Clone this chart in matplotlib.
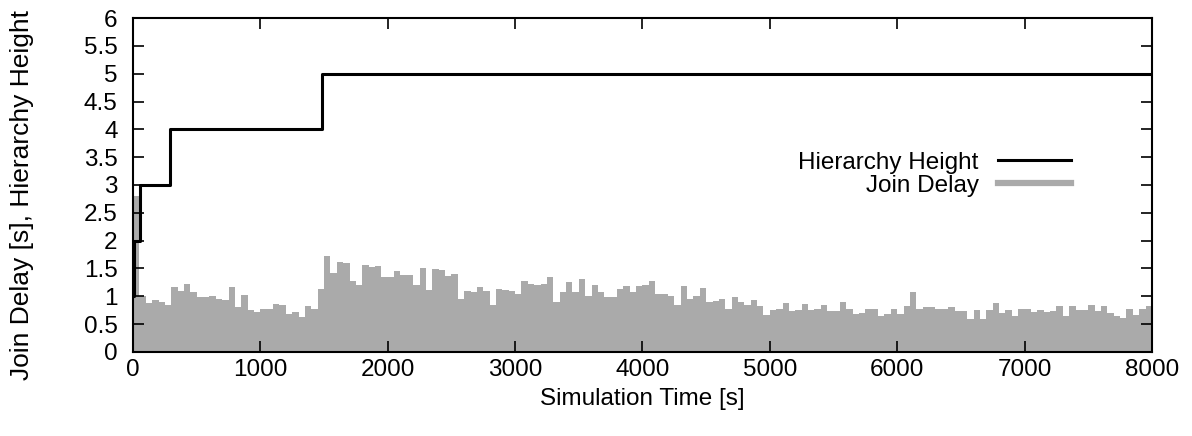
import numpy as np
import matplotlib
matplotlib.use('Agg')
import matplotlib.pyplot as plt
from matplotlib.ticker import MultipleLocator, FormatStrFormatter
from matplotlib.lines import Line2D

plt.rcParams['font.family'] = ['Liberation Sans', 'DejaVu Sans']

# join delay, one value per 50 s bin (0 .. 8000 s)
bin_width = 50
join_delay = [
    2.8, 1.0, 0.88, 0.93, 0.89, 0.85, 1.17, 1.1, 1.22, 1.08,
    0.98, 0.98, 1.0, 0.96, 0.93, 1.16, 0.8, 1.02, 0.75, 0.72,
    0.78, 0.78, 0.86, 0.84, 0.68, 0.72, 0.62, 0.83, 0.77, 1.13,
    1.72, 1.41, 1.62, 1.59, 1.28, 1.2, 1.56, 1.53, 1.55, 1.34,
    1.35, 1.45, 1.38, 1.39, 1.2, 1.5, 1.11, 1.49, 1.47, 1.37,
    1.4, 0.95, 1.1, 1.07, 1.16, 1.1, 0.84, 1.13, 1.11, 1.1,
    1.05, 1.28, 1.22, 1.2, 1.22, 1.35, 0.9, 1.08, 1.25, 1.08,
    1.31, 1.0, 1.2, 1.08, 0.98, 0.98, 1.13, 1.18, 1.08, 1.18,
    1.2, 1.27, 1.04, 1.04, 1.01, 0.85, 1.18, 0.95, 1.0, 1.15,
    0.89, 0.91, 0.95, 0.77, 0.98, 0.9, 0.84, 0.93, 0.82, 0.66,
    0.75, 0.78, 0.88, 0.74, 0.76, 0.86, 0.75, 0.78, 0.84, 0.74,
    0.74, 0.9, 0.78, 0.68, 0.7, 0.78, 0.78, 0.65, 0.69, 0.77,
    0.68, 0.82, 1.07, 0.78, 0.8, 0.8, 0.77, 0.77, 0.81, 0.74,
    0.74, 0.6, 0.76, 0.6, 0.76, 0.88, 0.7, 0.76, 0.65, 0.77,
    0.77, 0.72, 0.76, 0.72, 0.74, 0.83, 0.65, 0.83, 0.76, 0.75,
    0.84, 0.74, 0.82, 0.7, 0.65, 0.61, 0.78, 0.66, 0.78, 0.82,
]
delay_edges = np.arange(len(join_delay) + 1) * bin_width

# hierarchy height changes (time [s], height)
height_t = [0, 10, 55, 290, 1485, 8000]
height = [1, 2, 3, 4, 5, 5]

fs = 17.5

fig = plt.figure(figsize=(11.92, 4.36), dpi=100)
ax = fig.add_axes([0.1116, 0.1927, 0.8548, 0.766])

ax.stairs(join_delay, delay_edges, fill=True, color='#aaaaaa', zorder=1)
ax.step(height_t, height, where='post', color='black', lw=2.2, zorder=3)

ax.set_xlim(0, 8000)
ax.set_ylim(0, 6)
ax.xaxis.set_major_locator(MultipleLocator(1000))
ax.yaxis.set_major_locator(MultipleLocator(0.5))
ax.yaxis.set_major_formatter(FormatStrFormatter('%g'))
ax.tick_params(direction='in', length=8, width=1.2, top=True, right=True,
               labelsize=fs)
ax.tick_params(axis='y', pad=11)
ax.tick_params(axis='x', pad=5)
for s in ax.spines.values():
    s.set_linewidth(1.5)
    s.set_zorder(5)

ax.set_xlabel('Simulation Time [s]', fontsize=fs, labelpad=5)
ax.set_ylabel('Join Delay [s], Hierarchy Height', fontsize=19)
ax.yaxis.set_label_coords(-0.097, 0.47)

handles = [Line2D([], [], color='black', lw=2.2),
           Line2D([], [], color='#aaaaaa', lw=4.5)]
leg = ax.legend(handles, ['Hierarchy Height', 'Join Delay'],
                loc='upper right', bbox_to_anchor=(0.942, 0.665),
                frameon=False, fontsize=fs, markerfirst=False,
                handlelength=3.0, handletextpad=0.8, labelspacing=0.05)
for t in leg.get_texts():
    t.set_ha('right')

fig.savefig('out.png', dpi=100)
